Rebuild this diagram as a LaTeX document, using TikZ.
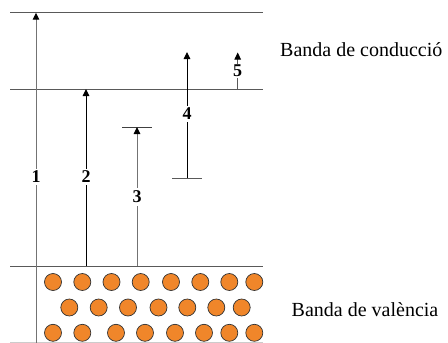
\documentclass[tikz,border=0pt]{standalone}
\usepackage{fontspec}
\setmainfont{Liberation Serif}
\usetikzlibrary{arrows.meta}
\definecolor{electron}{HTML}{F0862A}
\tikzset{
  level/.style={draw=black!65, line width=1pt},
  trans/.style={line width=1pt, -{Triangle[length=7pt,width=6.5pt,black]}},
  tbar/.style={line width=1pt, draw=black!75},
  num/.style={fill=white, inner sep=2.5pt, font=\fontsize{18}{20}\selectfont\bfseries},
  bandname/.style={anchor=base west, inner sep=0pt, font=\fontsize{20}{24}\selectfont},
  elec/.style={circle, draw=black!80, line width=0.7pt, fill=electron, minimum size=17pt, inner sep=0pt}
}
\begin{document}
\begin{tikzpicture}[x=1pt, y=-1pt]
\useasboundingbox (0,0) rectangle (448,343);

% energy levels
\coordinate (t0) at (10,12.7);  \coordinate (t1) at (263,12.7);
\coordinate (m0) at (10,89);    \coordinate (m1) at (263,89);
\coordinate (v0) at (10,266);   \coordinate (v1) at (263,266);
\coordinate (b0) at (10,342);   \coordinate (b1) at (263,342);
\draw[level] (t0) -- (t1);
\draw[level] (m0) -- (m1);
\draw[level] (v0) -- (v1);
\draw[draw=black!20, line width=0.8pt] (b0) -- (b1);

% band names
\node[bandname] (cb) at (280,56) {Banda de conducció};
\node[bandname] (vb) at (291.5,316) {Banda de valència};

% transition 1
\coordinate (s1) at (36,343);
\coordinate (e1) at (36,12.7);
\draw[trans, draw=black!55] (s1) -- (e1);
\node[num] (n1) at (36,177) {1};

% transition 2
\coordinate (s2) at (86,266);
\coordinate (e2) at (86,89);
\draw[trans] (s2) -- (e2);
\node[num] (n2) at (86,177) {2};

% transition 3
\coordinate (s3) at (137,266);
\coordinate (e3) at (137,127);
\coordinate (l3) at (122,127); \coordinate (r3) at (152,127);
\draw[tbar] (l3) -- (r3);
\draw[trans, draw=black!55] (s3) -- (e3);
\node[num] (n3) at (137,197) {3};

% transition 4
\coordinate (s4) at (187,178);
\coordinate (e4) at (187,52);
\coordinate (l4) at (172,178); \coordinate (r4) at (202,178);
\draw[tbar, draw=black!65] (l4) -- (r4);
\draw[trans] (s4) -- (e4);
\node[num] (n4) at (187,114) {4};

% transition 5
\coordinate (s5) at (237.7,89);
\coordinate (e5) at (237.7,52.5);
\draw[trans, draw=black!65] (s5) -- (e5);
\node[num, inner sep=1.2pt] (n5) at (237.7,71) {5};

% electrons in the valence band
\foreach \x [count=\i] in {53,82.3,111.5,140.7,171,200.3,229.3,254.3}
  \node[elec] (ea\i) at (\x,282) {};
\foreach \x [count=\i] in {69.3,98.7,128,158.5,187.3,216.3,241.7}
  \node[elec] (eb\i) at (\x,307.5) {};
\foreach \x [count=\i] in {53,82.3,116,145,175,204,229.3,254.3}
  \node[elec] (ec\i) at (\x,332.8) {};
\end{tikzpicture}
\end{document}
